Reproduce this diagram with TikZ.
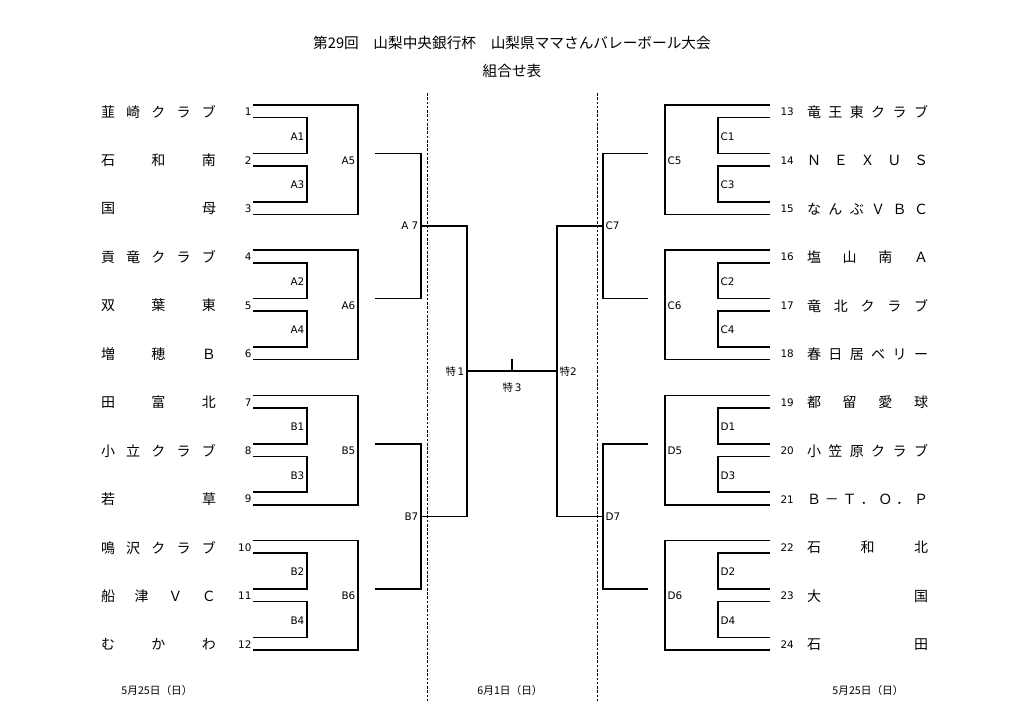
\documentclass[tikz,border=0pt]{standalone}
\usepackage{fontspec}
\setmainfont{Noto Sans CJK JP}
\newfontfamily\numfont{DejaVu Sans}
\usetikzlibrary{calc}

% spread the letters of a team name over the whole box
\def\spreadloop#1#2{#1\ifx\relax#2\else\hfill\expandafter\spreadloop\expandafter#2\fi}

\begin{document}
\begin{tikzpicture}[x=0.75pt, y=-0.75pt,
    bracket/.style={line width=1.2pt},
    divider/.style={line width=0.6pt, dash pattern=on 2pt off 1.2pt},
    teamL/.style={text width=86.25pt, inner sep=0pt, font=\fontsize{10.5}{12}\selectfont},
    teamR/.style={teamL, text width=90.75pt},
    num/.style={inner sep=1pt, font=\numfont\fontsize{7.8}{9}\selectfont},
    lbl/.style={num, inner sep=1.8pt},
    heading/.style={font=\fontsize{11}{13}\selectfont},
    day/.style={font=\fontsize{8}{10}\selectfont}
]
    \path[use as bounding box, fill=white] (0,0) rectangle (1024,701);

    % Title
    \node[heading] (title) at (512,43) {第29回　山梨中央銀行杯　山梨県ママさんバレーボール大会};
    \node[heading] (subtitle) at (512,71) {組合せ表};

    % Day dividers
    \draw[divider] (427,93) -- (427,701);
    \draw[divider] (597,93) -- (597,701);

    % Left teams
    \foreach \nm [count=\i] in {韮崎クラブ,石和南,国母,貢竜クラブ,双葉東,増穂Ｂ,田富北,小立クラブ,若草,鳴沢クラブ,船津ＶＣ,むかわ}{
        \pgfmathsetmacro\ry{112+(\i-1)*48.4}
        \node[teamL] (team\i) at (158.5,\ry) {\expandafter\spreadloop\nm\relax};
        \node[num, anchor=east] (no\i) at (253,\ry) {\i};
        \coordinate (top\i) at (253,\ry-7);
        \coordinate (bot\i) at (253,\ry+5.5);
    }

    % Right teams
    \foreach \nm [count=\i from 13] in {竜王東クラブ,ＮＥＸＵＳ,なんぶＶＢＣ,塩山南Ａ,竜北クラブ,春日居ベリー,都留愛球,小笠原クラブ,Ｂ－Ｔ．Ｏ．Ｐ,石和北,大国,石田}{
        \pgfmathsetmacro\ry{112+(\i-13)*48.4}
        \node[teamR] (team\i) at (867.5,\ry) {\expandafter\spreadloop\nm\relax};
        \node[num, anchor=west] (no\i) at (779,\ry) {\i};
        \coordinate (top\i) at (770,\ry-7);
        \coordinate (bot\i) at (770,\ry+5.5);
    }

    % Groups of three, left side
    \foreach \a/\p/\q/\o in {1/A1/A3/A5,4/A2/A4/A6,7/B1/B3/B5,10/B2/B4/B6}{
        \pgfmathtruncatemacro\nb{\a+1}
        \pgfmathtruncatemacro\nc{\a+2}
        \draw[bracket] (bot\a) -- ++(54,0) |- (top\nb);
        \draw[bracket] (bot\nb) -- ++(54,0) |- (top\nc);
        \draw[bracket] (top\a) -- ++(105,0) |- (bot\nc);
        \node[lbl, anchor=east] (\p) at ($(bot\a)!.5!(top\nb)+(54,1)$) {\p};
        \node[lbl, anchor=east] (\q) at ($(bot\nb)!.5!(top\nc)+(54,1)$) {\q};
        \node[lbl, anchor=east] (\o) at ($(top\nb)+(105,7)$) {\o};
        \coordinate (out\o) at ($(top\nb)+(122,0)$);
    }

    % Groups of three, right side
    \foreach \a/\p/\q/\o in {13/C1/C3/C5,16/C2/C4/C6,19/D1/D3/D5,22/D2/D4/D6}{
        \pgfmathtruncatemacro\nb{\a+1}
        \pgfmathtruncatemacro\nc{\a+2}
        \draw[bracket] (bot\a) -- ++(-52,0) |- (top\nb);
        \draw[bracket] (bot\nb) -- ++(-52,0) |- (top\nc);
        \draw[bracket] (top\a) -- ++(-105,0) |- (bot\nc);
        \node[lbl, anchor=west] (\p) at ($(bot\a)!.5!(top\nb)+(-52,1)$) {\p};
        \node[lbl, anchor=west] (\q) at ($(bot\nb)!.5!(top\nc)+(-52,1)$) {\q};
        \node[lbl, anchor=west] (\o) at ($(top\nb)+(-105,7)$) {\o};
        \coordinate (out\o) at ($(top\nb)+(-122,0)$);
    }

    % Second round
    \coordinate (A7) at ($(outA5)!.5!(outA6)+(46,0)$);
    \coordinate (B7) at ($(outB5)!.5!(outB6)+(46,0)$);
    \coordinate (C7) at ($(outC5)!.5!(outC6)+(-45,0)$);
    \coordinate (D7) at ($(outD5)!.5!(outD6)+(-45,0)$);
    \draw[bracket] (outA5) -| (A7) |- (outA6);
    \draw[bracket] (outB5) -| (B7) |- (outB6);
    \draw[bracket] (outC5) -| (C7) |- (outC6);
    \draw[bracket] (outD5) -| (D7) |- (outD6);
    \node[lbl, anchor=east] (A7 text) at (A7) {A 7};
    \node[lbl, anchor=east] (B7 text) at (B7) {B7};
    \node[lbl, anchor=west] (C7 text) at (C7) {C7};
    \node[lbl, anchor=west] (D7 text) at (D7) {D7};

    % Finals
    \coordinate (S1) at ($(A7)!.5!(B7)+(46,0)$);
    \coordinate (S2) at ($(C7)!.5!(D7)+(-46,0)$);
    \coordinate (S3) at ($(S1)!.5!(S2)$);
    \draw[bracket] (A7) -| (S1) |- (B7);
    \draw[bracket] (C7) -| (S2) |- (D7);
    \draw[bracket] (S1) -- (S2);
    \draw[bracket] (S3) -- ++(0,-12);
    \node[lbl, anchor=east] (S1 text) at (S1) {{\normalfont 特}\,1};
    \node[lbl, anchor=west] (S2 text) at (S2) {{\normalfont 特}2};
    \node[lbl] (S3 text) at ($(S3)+(0,16)$) {{\normalfont 特}\,3};

    % Match days
    \node[day] (day left) at (157,690) {5月25日（日）};
    \node[day] (day mid) at (510,690) {6月1日（日）};
    \node[day] (day right) at (868,690) {5月25日（日）};
\end{tikzpicture}
\end{document}
